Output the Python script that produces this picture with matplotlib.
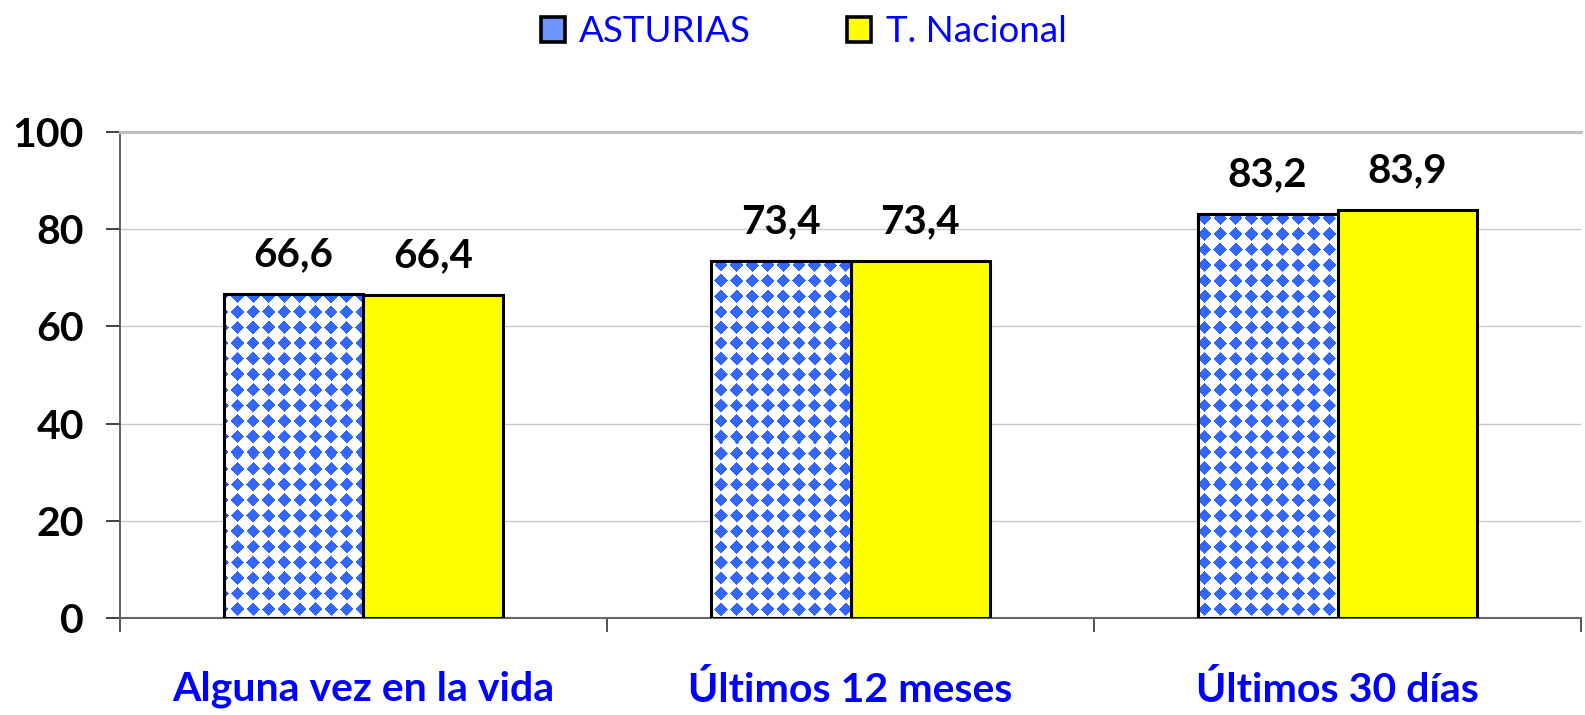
import matplotlib.pyplot as plt
import numpy as np

categories = ["Alguna vez en la vida", "Últimos 12 meses", "Últimos 30 días"]
asturias = [66.6, 73.4, 83.2]
nacional = [66.4, 73.4, 83.9]
series_names = ["ASTURIAS", "T. Nacional"]
yticks = [0, 20, 40, 60, 80, 100]

plt.rcParams['font.family'] = ['Lato', 'DejaVu Sans']

fig = plt.figure(figsize=(15.85, 7.15), dpi=100)
ax = fig.add_axes([0.0757, 0.1357, 0.9218, 0.6797])
ax.set_xlim(-0.5, 2.5)
ax.set_ylim(0, 100)

x = np.arange(len(categories))
w = 0.287

# blue diamond texture (one pixel per screen pixel of the axes)
pw, ph = int(0.9218 * 1585), int(0.6797 * 715)
px, py = np.meshgrid(np.arange(pw), np.arange(ph))
step = 15.6
dx = (px % step) - step / 2
dy = (py % step) - step / 2
diamond = (np.abs(dx) + np.abs(dy)) < 6.8
tex = np.ones((ph, pw, 3))
tex[diamond] = [0x33 / 255, 0x66 / 255, 1.0]

bars = ax.bar(x - w / 2, asturias, w, facecolor="white", edgecolor="black", linewidth=2.2, zorder=3)
for b in bars:
    im = ax.imshow(tex, extent=(-0.5, 2.5, 0, 100), aspect="auto", interpolation="nearest",
                   origin="upper", zorder=3.5)
    im.set_clip_path(b)
ax.bar(x - w / 2, asturias, w, fill=False, edgecolor="black", linewidth=2.2, zorder=4)
ax.bar(x + w / 2, nacional, w, color="#ffff00", edgecolor="black", linewidth=2.2, zorder=3)

for xs, vals in [(x - w / 2, asturias), (x + w / 2, nacional)]:
    for xi, v in zip(xs, vals):
        ax.annotate(f"{v:.1f}".replace(".", ","), (xi, v), xytext=(0, 20), textcoords="offset points",
                    ha="center", va="baseline", fontsize=29, fontweight="bold")

ax.set_yticks(yticks)
ax.tick_params(axis="y", labelsize=29.5, length=10, width=1.3, direction="out", pad=16, color="#333333")
for lab in ax.get_yticklabels():
    lab.set_fontweight("bold")

ax.set_xticks([-0.5, 0.5, 1.5, 2.5])
ax.set_xticklabels([])
ax.set_xticks(x, minor=True)
ax.set_xticklabels(categories, minor=True, fontsize=29.5, fontweight="bold", color="#0000ff")
ax.tick_params(axis="x", which="major", length=10, width=1.3, color="#444444")
ax.tick_params(axis="x", which="minor", length=0, pad=38)

ax.grid(axis="y", color="#c8c8c8", linewidth=1.0, zorder=0)
ax.set_axisbelow(True)
ax.spines["right"].set_visible(False)
ax.spines["top"].set_color("#c0c0c0")
ax.spines["top"].set_linewidth(2.2)
ax.spines["left"].set_color("#555555")
ax.spines["left"].set_linewidth(1.3)
ax.spines["bottom"].set_color("#666666")
ax.spines["bottom"].set_linewidth(1.5)

h1 = plt.Rectangle((0, 0), 1, 1, facecolor="#6f95ff", edgecolor="black", linewidth=2.6)
h2 = plt.Rectangle((0, 0), 1, 1, facecolor="#ffff00", edgecolor="black", linewidth=2.6)
leg = fig.legend([h1, h2], series_names, loc="upper center", bbox_to_anchor=(0.507, 1.025), ncol=2,
                 frameon=False, fontsize=26.5, handlelength=0.65, handleheight=0.65,
                 handletextpad=0.4, columnspacing=2.6)
for t in leg.get_texts():
    t.set_color("#0000ff")

fig.savefig("out.png", dpi=100)
